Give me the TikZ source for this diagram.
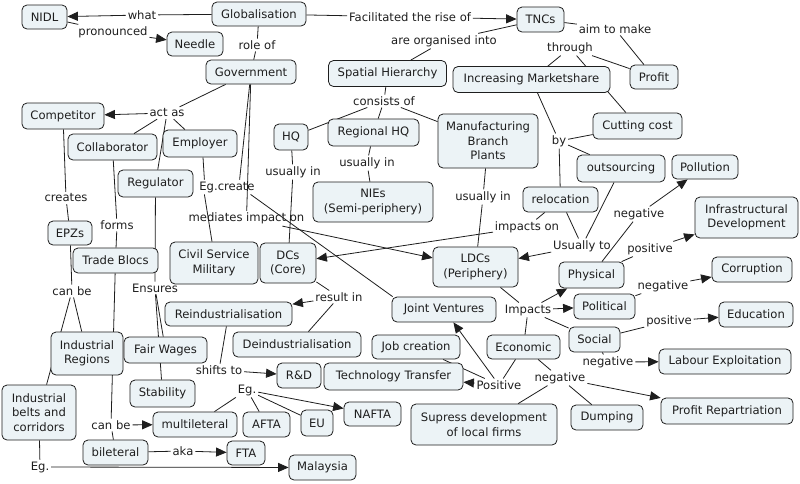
\documentclass[tikz,border=0pt]{standalone}
\usepackage{fontspec}
\setmainfont{DejaVu Sans}
\usetikzlibrary{arrows.meta,backgrounds}
\definecolor{boxfill}{RGB}{236,243,246}
\definecolor{ink}{RGB}{30,30,30}
\tikzset{
 concept/.style={draw=ink, fill=boxfill, rounded corners=5pt, line width=0.8pt, inner sep=0pt, align=center, font=\fontsize{11.6}{14.5}\selectfont, text=ink},
 phrase/.style={inner sep=1.8pt, font=\fontsize{11.6}{14}\selectfont, text=ink},
 link/.style={draw=ink, line width=0.8pt},
 arr/.style={link, -{Triangle[length=10.5pt,width=9pt]}},
}
\begin{document}
\begin{tikzpicture}[x=1pt,y=-1pt]
\begin{pgfonlayer}{background}
\fill[white] (0,0) rectangle (800,483);
\end{pgfonlayer}
\useasboundingbox (0,0) rectangle (800,483);
% concepts
\node[concept,minimum width=45pt,minimum height=24pt] (nidl) at (44.5,17) {NIDL};
\node[concept,minimum width=94pt,minimum height=24pt] (glob) at (259,14) {Globalisation};
\node[concept,minimum width=56pt,minimum height=24pt] (needle) at (195,44) {Needle};
\node[concept,minimum width=47pt,minimum height=25pt] (tncs) at (540.5,19.5) {TNCs};
\node[concept,minimum width=90pt,minimum height=24pt] (gov) at (251,72) {Government};
\node[concept,minimum width=118pt,minimum height=26pt] (spatial) at (387.5,73.5) {Spatial Hierarchy};
\node[concept,minimum width=157pt,minimum height=26pt] (incr) at (531.5,79.5) {Increasing Marketshare};
\node[concept,minimum width=48pt,minimum height=24pt] (profit) at (654,77) {Profit};
\node[concept,minimum width=82pt,minimum height=26pt] (competitor) at (63,116) {Competitor};
\node[concept,minimum width=89pt,minimum height=26pt] (collab) at (112.5,147) {Collaborator};
\node[concept,minimum width=74pt,minimum height=27pt] (employer) at (200,143.5) {Employer};
\node[concept,minimum width=34pt,minimum height=26pt] (hq) at (291,137) {HQ};
\node[concept,minimum width=91pt,minimum height=27pt] (reghq) at (373.5,132.5) {Regional HQ};
\node[concept,minimum width=100pt,minimum height=54pt] (mfg) at (488,141) {Manufacturing\\Branch\\Plants};
\node[concept,minimum width=89pt,minimum height=26pt] (cutting) at (637.5,126) {Cutting cost};
\node[concept,minimum width=88pt,minimum height=27pt] (outsourcing) at (621,168.5) {outsourcing};
\node[concept,minimum width=66pt,minimum height=24pt] (pollution) at (705,167) {Pollution};
\node[concept,minimum width=75pt,minimum height=27pt] (regulator) at (155.5,183.5) {Regulator};
\node[concept,minimum width=120pt,minimum height=40pt] (nies) at (373,202) {NIEs\\(Semi-periphery)};
\node[concept,minimum width=75pt,minimum height=25pt] (relocation) at (560.5,199.5) {relocation};
\node[concept,minimum width=103pt,minimum height=41pt] (infra) at (746.5,217.5) {Infrastructural\\Development};
\node[concept,minimum width=44pt,minimum height=24pt] (epzs) at (70,233) {EPZs};
\node[concept,minimum width=88pt,minimum height=42pt] (civil) at (214,263) {Civil Service\\Military};
\node[concept,minimum width=56pt,minimum height=40pt] (dcs) at (288,263) {DCs\\(Core)};
\node[concept,minimum width=85pt,minimum height=40pt] (ldcs) at (475.5,267) {LDCs\\(Periphery)};
\node[concept,minimum width=85pt,minimum height=25pt] (trade) at (115.5,260.5) {Trade Blocs};
\node[concept,minimum width=65pt,minimum height=26pt] (physical) at (591.5,275) {Physical};
\node[concept,minimum width=80pt,minimum height=25pt] (corruption) at (752,269.5) {Corruption};
\node[concept,minimum width=127pt,minimum height=24pt] (reind) at (228.5,314) {Reindustrialisation};
\node[concept,minimum width=104pt,minimum height=25pt] (jv) at (444,309.5) {Joint Ventures};
\node[concept,minimum width=61pt,minimum height=25pt] (political) at (604.5,306.5) {Political};
\node[concept,minimum width=74pt,minimum height=25pt] (education) at (756,314.5) {Education};
\node[concept,minimum width=51pt,minimum height=25pt] (social) at (594.5,339.5) {Social};
\node[concept,minimum width=72pt,minimum height=43pt] (indreg) at (87,353.5) {Industrial\\Regions};
\node[concept,minimum width=83pt,minimum height=26pt] (fair) at (165.5,350) {Fair Wages};
\node[concept,minimum width=128pt,minimum height=25pt] (deind) at (297,344.5) {Deindustrialisation};
\node[concept,minimum width=88pt,minimum height=24pt] (job) at (416,347) {Job creation};
\node[concept,minimum width=73pt,minimum height=24pt] (economic) at (523.5,347) {Economic};
\node[concept,minimum width=132pt,minimum height=25pt] (labour) at (725,361.5) {Labour Exploitation};
\node[concept,minimum width=44pt,minimum height=25pt] (rnd) at (299,375.5) {R\&D};
\node[concept,minimum width=139pt,minimum height=27pt] (tech) at (393.5,376.5) {Technology Transfer};
\node[concept,minimum width=65pt,minimum height=27pt] (stability) at (162.5,393.5) {Stability};
\node[concept,minimum width=74pt,minimum height=55pt] (indbelts) at (39,412.5) {Industrial\\belts and\\corridors};
\node[concept,minimum width=84pt,minimum height=25pt] (multi) at (195,424.5) {multileteral};
\node[concept,minimum width=47pt,minimum height=25pt] (afta) at (266.5,424.5) {AFTA};
\node[concept,minimum width=32pt,minimum height=26pt] (eu) at (317,423) {EU};
\node[concept,minimum width=57pt,minimum height=24pt] (nafta) at (372.5,414) {NAFTA};
\node[concept,minimum width=146pt,minimum height=41pt] (supress) at (484,424.5) {Supress development\\of local firms};
\node[concept,minimum width=72pt,minimum height=25pt] (dumping) at (607,417.5) {Dumping};
\node[concept,minimum width=132pt,minimum height=26pt] (profitrep) at (727,411) {Profit Repartriation};
\node[concept,minimum width=65pt,minimum height=25pt] (bilateral) at (115.5,452.5) {bileteral};
\node[concept,minimum width=38pt,minimum height=24pt] (fta) at (246,453) {FTA};
\node[concept,minimum width=67pt,minimum height=25pt] (malaysia) at (322.5,467.5) {Malaysia};
% linking phrases
\node[phrase] (what) at (142,15) {what};
\node[phrase] (pronounced) at (113,32) {pronounced};
\node[phrase] (roleof) at (257,45) {role of};
\node[phrase] (facil) at (410,17) {Facilitated the rise of};
\node[phrase] (organised) at (444,41) {are organised into};
\node[phrase] (aim) at (615,29) {aim to make};
\node[phrase] (through) at (570,48) {through};
\node[phrase] (actas) at (167,113) {act as};
\node[phrase] (consists) at (384,101) {consists of};
\node[phrase] (by) at (559,141) {by};
\node[phrase] (usin1) at (293,172) {usually in};
\node[phrase] (usin2) at (367,163) {usually in};
\node[phrase] (usin3) at (483,197) {usually in};
\node[phrase] (creates) at (66,198) {creates};
\node[phrase] (egcreate) at (227,187) {Eg.create};
\node[phrase] (forms) at (117,225) {forms};
\node[phrase] (mediates) at (246.5,218.5) {mediates impact on};
\node[phrase] (impactson) at (527,227) {impacts on};
\node[phrase] (usuallyto) at (582,246) {Usually to};
\node[phrase] (neg1) at (639,214) {negative};
\node[phrase] (pos1) at (650,249) {positive};
\node[phrase] (canbe1) at (72,291) {can be};
\node[phrase] (ensures) at (155,288) {Ensures};
\node[phrase] (resultin) at (339,297) {result in};
\node[phrase] (impacts) at (528,310) {Impacts};
\node[phrase] (neg2) at (663,286) {negative};
\node[phrase] (pos2) at (669,321) {positive};
\node[phrase] (neg3) at (608,362) {negative};
\node[phrase] (shifts) at (219,370) {shifts to};
\node[phrase] (positive) at (499,385) {Positive};
\node[phrase] (neg4) at (560,378) {negative};
\node[phrase] (eg2) at (247,390) {Eg.};
\node[phrase] (canbe2) at (111,425) {can be};
\node[phrase] (aka) at (183,451) {aka};
\node[phrase] (eg3) at (40,467) {Eg.};
% connectors
\begin{pgfonlayer}{background}
\draw[link] (glob) -- (what); \draw[arr] (what) -- (nidl);
\draw[link] (nidl) -- (pronounced); \draw[arr] (pronounced) -- (needle);
\draw[link] (glob) -- (roleof); \draw[link] (roleof) -- (gov);
\draw[link] (glob) -- (facil); \draw[arr] (facil) -- (tncs);
\draw[link] (tncs) -- (organised); \draw[link] (organised) -- (spatial);
\draw[link] (tncs) -- (aim); \draw[link] (aim) -- (profit);
\draw[link] (profit) -- (through); \draw[link] (through) -- (incr); \draw[link] (through) -- (cutting);
\draw[link] (gov) -- (actas); \draw[arr] (actas) -- (competitor);
\draw[link] (actas) -- (collab); \draw[link] (actas) -- (employer); \draw[link] (actas) -- (regulator);
\draw[link] (spatial) -- (consists); \draw[link] (consists) -- (hq);
\draw[link] (consists) -- (reghq); \draw[link] (consists) -- (mfg);
\draw[link] (incr) -- (by); \draw[link] (by) -- (cutting); \draw[link] (by) -- (outsourcing); \draw[link] (by) -- (relocation);
\draw[link] (hq) -- (usin1); \draw[link] (usin1) -- (dcs);
\draw[link] (reghq) -- (usin2); \draw[link] (usin2) -- (nies);
\draw[link] (mfg) -- (usin3); \draw[link] (usin3) -- (ldcs);
\draw[link] (competitor) -- (creates); \draw[link] (creates) -- (epzs);
\draw[link] (gov) -- ([xshift=-17pt]egcreate.north east);
\draw[link] ([xshift=3pt]employer.south) -- ([xshift=7pt]egcreate.north west);
\draw[link] ([xshift=7pt]egcreate.south west) -- ([xshift=-2pt]civil.north);
\draw[link] ([xshift=-6pt]egcreate.south east) -- ([xshift=1pt]jv.north west);
\draw[link] (gov) -- (mediates); \draw[arr] (mediates) -- (ldcs);
\draw[link] (relocation) -- (impactson); \draw[arr] (impactson) -- (dcs);
\draw[link] (relocation) -- (usuallyto); \draw[link] (outsourcing) -- (usuallyto); \draw[arr] (usuallyto) -- (ldcs);
\draw[link] (physical) -- (neg1); \draw[arr] (neg1) -- (pollution);
\draw[link] (physical) -- (pos1); \draw[arr] (pos1) -- (infra);
\draw[link] (collab) -- (forms); \draw[link] (forms) -- (trade);
\draw[link] (regulator) -- (ensures); \draw[link] (ensures) -- (fair); \draw[link] (ensures) -- (stability);
\draw[link] (epzs) -- (canbe1); \draw[link] (canbe1) -- (indreg); \draw[link] (canbe1) -- (indbelts);
\draw[link] (dcs) -- (resultin); \draw[arr] (resultin) -- (reind); \draw[link] (resultin) -- (deind);
\draw[link] (ldcs) -- (impacts); \draw[arr] (impacts) -- (physical); \draw[arr] (impacts) -- (political);
\draw[link] (impacts) -- (social); \draw[link] (impacts) -- (economic);
\draw[link] (political) -- (neg2); \draw[arr] (neg2) -- (corruption);
\draw[link] (social) -- (pos2); \draw[arr] (pos2) -- (education);
\draw[link] (social) -- (neg3); \draw[arr] (neg3) -- (labour);
\draw[link] (reind) -- (shifts); \draw[arr] (shifts) -- (rnd);
\draw[link] (economic) -- (positive); \draw[arr] (positive) -- (tech); \draw[arr] (positive) -- (jv); \draw[link] (positive) -- (job);
\draw[link] (economic) -- (neg4); \draw[link] (neg4) -- (supress); \draw[link] (neg4) -- (dumping); \draw[arr] (neg4) -- (profitrep);
\draw[link] (multi) -- (eg2); \draw[link] (eg2) -- (afta); \draw[link] (eg2) -- (eu); \draw[arr] (eg2) -- (nafta);
\draw[link] (trade) -- (canbe2); \draw[arr] (canbe2) -- (multi); \draw[link] (canbe2) -- (bilateral);
\draw[link] (bilateral) -- (aka); \draw[arr] (aka) -- (fta);
\draw[link] (indbelts) -- (eg3); \draw[arr] (eg3) -- (malaysia);
\end{pgfonlayer}
\end{tikzpicture}
\end{document}
